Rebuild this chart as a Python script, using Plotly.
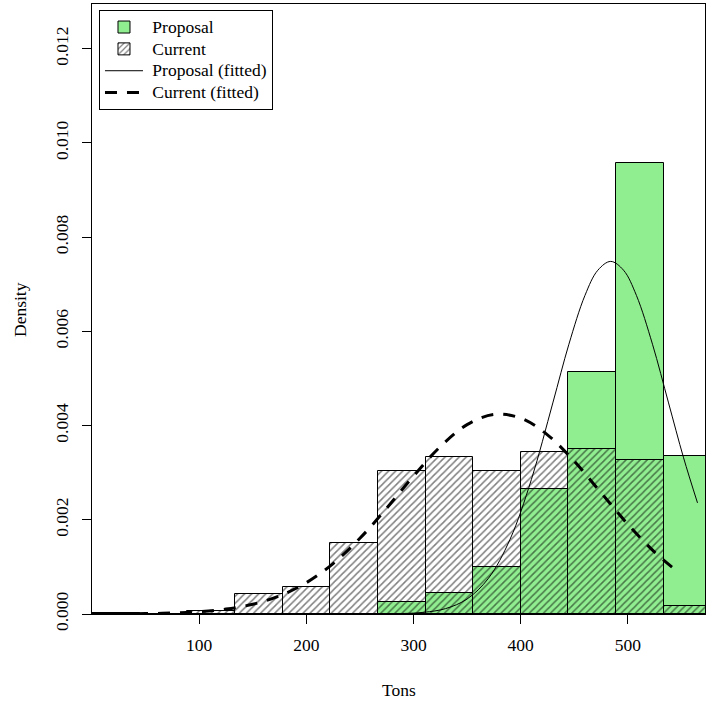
import plotly.graph_objects as go

# ---- data ----
bin_edges = [0, 44.46, 88.92, 133.38, 177.85, 222.31, 266.77, 311.23,
             355.69, 400.15, 444.62, 489.08, 533.54, 578.0]
proposal_density = [0, 0, 0, 0, 0, 0, 0.00025, 0.000453, 0.001005,
                    0.002648, 0.005147, 0.009573, 0.003356]
current_density = [0.00002, 0, 0.000064, 0.000418, 0.000567, 0.001515,
                   0.00303, 0.003341, 0.003044, 0.003448, 0.003498,
                   0.003271, 0.00017]

prop_fit_x = [270, 290, 310, 330, 350, 370, 390, 410, 430, 445, 460, 472,
              484, 496, 508, 523, 538, 552, 565]
prop_fit_y = [0.0000024, 0.0000099, 0.0000363, 0.000115, 0.000318, 0.00076,
              0.001581, 0.002855, 0.004481, 0.005727, 0.006764, 0.007298,
              0.007485, 0.007298, 0.006764, 0.005727, 0.004481, 0.003317,
              0.002359]

cur_fit_x = [0, 25, 50, 75, 100, 125, 150, 175, 200, 225, 250, 275, 300,
             325, 350, 375, 400, 425, 450, 475, 500, 525, 546]
cur_fit_y = [0.0000012, 0.0000033, 0.0000086, 0.0000212, 0.0000487, 0.000104,
             0.000207, 0.000385, 0.000665, 0.001071, 0.001607, 0.002247,
             0.002928, 0.003554, 0.00402, 0.004235, 0.004158, 0.003804,
             0.003242, 0.002574, 0.001905, 0.001313, 0.000909]

x_ticks = [100, 200, 300, 400, 500]
y_ticks = [0.000, 0.002, 0.004, 0.006, 0.008, 0.010, 0.012]

legend_names = ["Proposal", "Current", "Proposal (fitted)", "Current (fitted)"]

centers = [(a + b) / 2 for a, b in zip(bin_edges[:-1], bin_edges[1:])]
widths = [b - a for a, b in zip(bin_edges[:-1], bin_edges[1:])]

FONT = "Liberation Serif"
FS = 17.5


def lname(s):
    return '<span style="font-size:%.1fpx">&nbsp;%s</span>' % (FS, s)


fig = go.Figure()
fig.add_bar(x=centers, y=proposal_density, width=widths, name=lname(legend_names[0]),
            marker=dict(color="#90EE90", line=dict(color="black", width=1)))
fig.add_bar(x=centers, y=current_density, width=widths, name=lname(legend_names[1]),
            marker=dict(color="rgba(0,0,0,0)", line=dict(color="black", width=1),
                        pattern=dict(shape="/", fgcolor="black",
                                     bgcolor="rgba(0,0,0,0)", size=5,
                                     solidity=0.3, fillmode="overlay")))
fig.add_scatter(x=prop_fit_x, y=prop_fit_y, mode="lines", name=lname(legend_names[2]),
                line=dict(color="black", width=1, shape="spline"))
fig.add_scatter(x=cur_fit_x, y=cur_fit_y, mode="lines", name=lname(legend_names[3]),
                line=dict(color="black", width=3, dash="12px,10px", shape="spline"))

axis_common = dict(showline=True, linecolor="black", linewidth=1, mirror=True,
                   ticks="outside", ticklen=9, tickwidth=1, tickcolor="black",
                   showgrid=False, zeroline=False,
                   tickfont=dict(family=FONT, size=FS, color="black"))

fig.update_layout(
    width=717, height=704,
    margin=dict(l=92, r=12, t=4, b=90),
    paper_bgcolor="white", plot_bgcolor="white",
    barmode="overlay", bargap=0,
    font=dict(family=FONT, size=FS, color="black"),
    xaxis=dict(range=[0, 572], tickvals=x_ticks, ticklabelstandoff=6, **axis_common),
    yaxis=dict(range=[0, 0.01295], tickvals=y_ticks, tickformat=".3f",
               tickangle=-90, ticklabelstandoff=7, **axis_common),
    legend=dict(x=0.0114, y=0.99, xanchor="left", yanchor="top",
                bgcolor="white", bordercolor="black", borderwidth=1,
                font=dict(family=FONT, size=14.5, color="black"),
                itemwidth=38, tracegroupgap=0),
    annotations=[
        dict(text="Tons", xref="paper", yref="paper", x=0.5, y=-0.1246,
             xanchor="center", yanchor="middle", showarrow=False,
             font=dict(family=FONT, size=FS)),
        dict(text="Density", xref="paper", yref="paper", x=-0.1175, y=0.5,
             xanchor="center", yanchor="middle", textangle=-90, showarrow=False,
             font=dict(family=FONT, size=FS)),
    ],
)

fig.write_html("out.html")
